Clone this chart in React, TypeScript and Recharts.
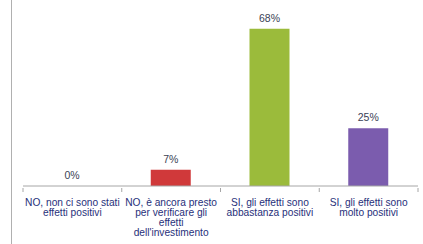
import React from "react";
import { BarChart, Bar, XAxis, YAxis, Cell, LabelList } from "recharts";

const categories = [
  "NO, non ci sono stati\neffetti positivi",
  "NO, è ancora presto\nper verificare gli\neffetti\ndell'investimento",
  "SI, gli effetti sono\nabbastanza positivi",
  "SI, gli effetti sono\nmolto positivi",
];
const values = [0, 7, 68, 25];
const colors = ["#c0504d", "#d0393a", "#9bbb3b", "#7b5cae"];

const data = categories.map((c, i) => ({ name: c, value: values[i] }));

const FONT = "'Liberation Sans', Arial, sans-serif";

const Tick = (props: any) => {
  const { x, y, payload, width, visibleTicksCount, index } = props;
  const band = width / visibleTicksCount;
  const lines = String(payload.value).split("\n");
  const left = x - band / 2;
  const right = x + band / 2;
  return (
    <g>
      <line x1={left} x2={left} y1={y - 8} y2={y - 4} stroke="#a6a6a6" />
      {index === visibleTicksCount - 1 && (
        <line x1={right} x2={right} y1={y - 8} y2={y - 4} stroke="#a6a6a6" />
      )}
      <text x={x} y={y} textAnchor="middle" fontSize={10.2} fill="#27307a" fontFamily={FONT}>
        {lines.map((l, i) => (
          <tspan key={i} x={x} dy={i === 0 ? 9.5 : 10}>
            {l}
          </tspan>
        ))}
      </text>
    </g>
  );
};

export default function App() {
  return (
    <div style={{ position: "absolute", left: 0, top: 0, width: 423, height: 244, background: "#fff" }}>
      <div
        style={{
          position: "absolute",
          left: 11,
          top: 0,
          width: 0,
          height: 244,
          borderLeft: "1px solid #b0b0b0",
        }}
      />
      <BarChart
        width={423}
        height={244}
        data={data}
        margin={{ top: 1, right: 5, bottom: 0, left: 23 }}
      >
        <YAxis hide domain={[0, 80]} />
        <XAxis
          dataKey="name"
          interval={0}
          height={58}
          tickLine={false}
          axisLine={{ stroke: "#a6a6a6" }}
          tick={<Tick />}
          tickMargin={4}
        />
        <Bar
          dataKey="value"
          barSize={40}
          minPointSize={(v: any) => (v === 0 ? 0.01 : 0)}
          isAnimationActive={false}
        >
          {data.map((d, i) => (
            <Cell key={i} fill={colors[i]} />
          ))}
          <LabelList
            dataKey="value"
            position="top"
            offset={7}
            formatter={(v: any) => `${v}%`}
            style={{ fontSize: 10.5, fill: "#3a3f55", fontFamily: FONT }}
          />
        </Bar>
      </BarChart>
    </div>
  );
}
